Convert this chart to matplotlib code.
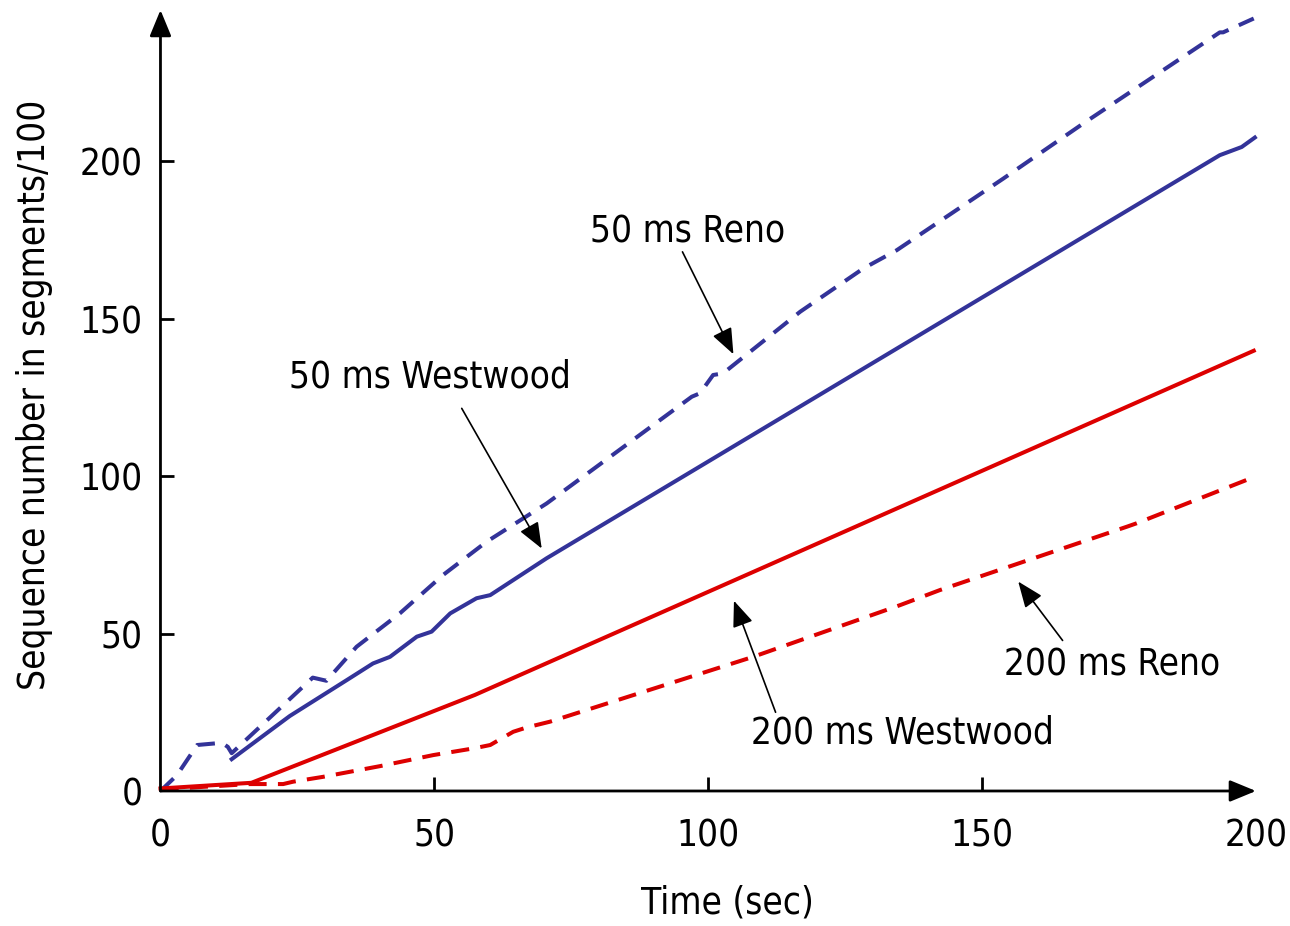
import matplotlib
matplotlib.use('Agg')
import matplotlib.pyplot as plt

# Data (time in sec, sequence number in segments/100)
reno50_t = [0, 3, 6.7, 11.2, 12.3, 13, 27.8, 30.3, 35.8, 43.7, 51.6, 59.5, 70.5,
            97.0, 98.5, 100.9, 102.7, 116.8, 128.3, 134.4, 153.9, 168.5, 193.4, 194, 199.6]
reno50_v = [0, 5, 14.6, 15.3, 14, 12, 36, 35, 45.8, 56.4, 68.6, 79.1, 91.3,
            125.2, 126.3, 132.1, 132.6, 152.2, 165.9, 171.7, 194.5, 212, 240.9, 240.9, 245.3]

westwood50_t = [13, 23.6, 34, 38.8, 41.9, 46.8, 49.5, 52.9, 57.7, 60.2, 70.5, 193.4, 197.4, 199.8]
westwood50_v = [10.1, 23.8, 35.2, 40.5, 42.6, 49, 50.6, 56.4, 61.2, 62.2, 73.9, 201.9, 204.5, 207.5]

westwood200_t = [0, 16.6, 57.4, 199.6]
westwood200_v = [0.8, 2.6, 30.5, 139.8]

reno200_t = [0, 16.3, 22.4, 24.2, 29.7, 40.1, 49.8, 57.4, 60.2, 64.4, 66.9, 71.1,
             108.2, 135, 142.3, 176.4, 178.2, 199.8]
reno200_v = [0.5, 2.2, 2.2, 2.95, 4.5, 7.9, 11.4, 13.6, 14.6, 18.8, 20.2, 22,
             42.6, 59, 63.8, 83.9, 85, 99.8]

x_ticks = [0, 50, 100, 150, 200]
y_ticks = [0, 50, 100, 150, 200]

blue = '#333399'
red = '#dd0000'

plt.rcParams['font.family'] = ['DejaVu Sans']
plt.rcParams['font.stretch'] = 'condensed'
fs = 26.5

fig = plt.figure(figsize=(12.9, 9.26), dpi=100)
ax = fig.add_axes([0.1244, 0.1458, 0.8492, 0.8434])

dash = (4.5, 2.8)
ax.plot(reno50_t, reno50_v, color=blue, lw=2.9, dashes=dash, clip_on=False)
ax.plot(westwood50_t, westwood50_v, color=blue, lw=2.9, clip_on=False)
ax.plot(westwood200_t, westwood200_v, color=red, lw=2.9, clip_on=False)
ax.plot(reno200_t, reno200_v, color=red, lw=2.9, dashes=dash, clip_on=False)

ax.set_xlim(0, 200)
ax.set_ylim(0, 248)
ax.set_xticks(x_ticks)
ax.set_yticks(y_ticks)
ax.tick_params(direction='in', length=10, width=2, labelsize=fs)
ax.tick_params(axis='x', pad=19)
ax.tick_params(axis='y', pad=13)
# the last x tick sits under the arrow head
ax.xaxis.get_major_ticks()[-1].tick1line.set_visible(False)
ax.xaxis.get_major_ticks()[0].tick1line.set_visible(False)
ax.yaxis.get_major_ticks()[0].tick1line.set_visible(False)
for s in ax.spines.values():
    s.set_visible(False)

# axes with arrow heads
axis_arrow = dict(arrowstyle='-|>,head_length=0.8,head_width=0.33', lw=2,
                  color='black', shrinkA=0, shrinkB=0, mutation_scale=20)
ax.annotate('', xy=(1, 0), xytext=(0, 0), xycoords='axes fraction', arrowprops=axis_arrow)
ax.annotate('', xy=(0, 1), xytext=(0, 0), xycoords='axes fraction', arrowprops=axis_arrow)

# curve labels with pointer arrows
pointer = dict(arrowstyle='-|>,head_length=0.8,head_width=0.32', lw=1.2,
               color='black', shrinkA=0, shrinkB=0, mutation_scale=20)
labels = [
    ('50 ms Reno', (96.3, 177.5), (95.3, 171.2), (104.6, 138.7)),
    ('50 ms Westwood', (49.2, 131.4), (55, 121.5), (69.6, 77)),
    ('200 ms Westwood', (135.5, 18.4), (112.3, 25), (104.7, 60.4)),
    ('200 ms Reno', (173.7, 40), (164.7, 47.8), (156.6, 66.5)),
]
for txt, pos, start, tip in labels:
    ax.text(pos[0], pos[1], txt, fontsize=fs, ha='center', va='center')
    ax.annotate('', xy=tip, xytext=start, arrowprops=pointer)

fig.text(0.0271, 0.5734, 'Sequence number in segments/100', rotation=90,
         fontsize=fs, ha='center', va='center')
fig.text(0.5636, 0.0248, 'Time (sec)', fontsize=fs, ha='center', va='center')

plt.savefig('out.png', dpi=100)
